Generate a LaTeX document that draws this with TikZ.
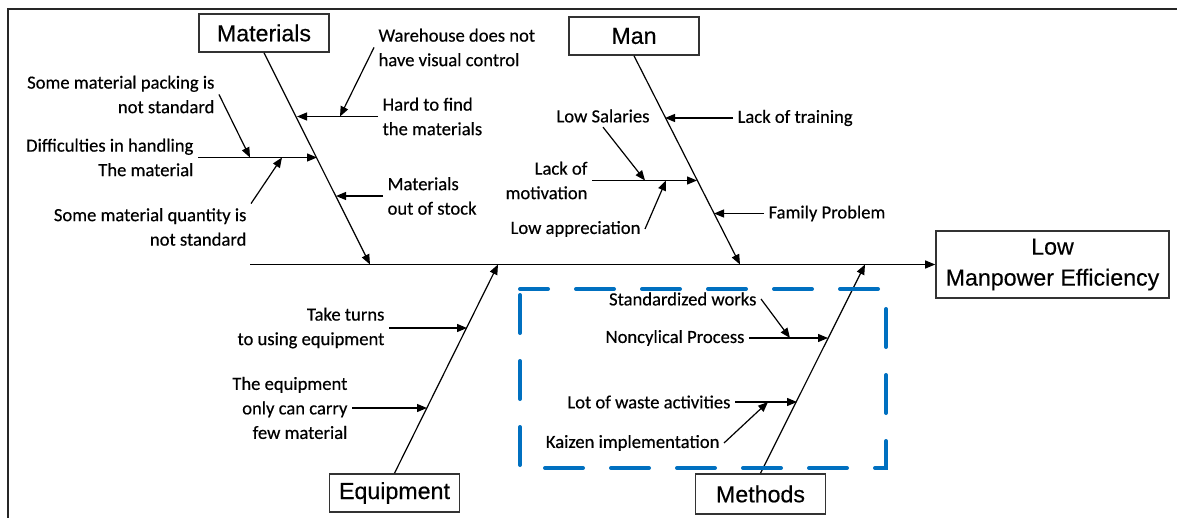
\documentclass[tikz,border=0pt]{standalone}
\usepackage{fontspec}
\setmainfont{Carlito}[FakeBold=0.4]
\newfontfamily\headfont{Liberation Sans}[FakeBold=0.4]
\usepackage{tikz}
\usetikzlibrary{positioning,arrows.meta}
\usepackage{xcolor}
\definecolor{dashblue}{HTML}{0070C0}
\tikzset{
  >={Triangle[length=5pt,width=4pt]},
  cause/.style={inner sep=2pt,font=\fontsize{9.3}{12.25}\selectfont},
  head/.style={draw=black!80,line width=0.8pt,minimum width=65pt,minimum height=19pt,inner sep=0pt,font=\headfont\fontsize{11.6}{15.5}\selectfont},
  bone/.style={line width=0.6pt}
}
\begin{document}
\begin{tikzpicture}[x=0.5pt,y=-0.5pt,bone]
\useasboundingbox (0,0) rectangle (1177,518);
\draw [black!85,line width=1.2pt](8,518)--(8,9)--(1177,9);

\node[head] (mat) at (264,33) {Materials};
\node[head] (man) at (634,36) {Man};
\node[head] (equ) at (394.5,493) {Equipment};
\node[head,minimum height=20pt] (meth) at (760.5,494) {Methods};
\node[head,minimum width=116.5pt,minimum height=33.5pt,align=center] (eff) at (1052.5,264.5) {Low\\Manpower Efficiency};

\coordinate (tail) at (250,264.5);
\coordinate (m0) at (370,264.5);
\coordinate (n0) at (740,264.5);
\coordinate (e0) at (498,264.5);
\coordinate (t0) at (865,264.5);

\draw  [black,->](tail)--(eff.west);
\draw  [black,->](mat.south)--(m0);
\draw  [black,->](man.south)--(n0);
\draw  [black,->](equ.north)--(e0);
\draw  [black,->](meth.north)--(t0);

\node[cause,anchor=west,align=left] (ware) at (374,47.5) {Warehouse does not\\have visual control};
\node[cause,anchor=east,align=right] (pack) at (219,94.5) {Some material packing is\\not standard};
\node[cause,anchor=west,align=left] (hard) at (378,116.5) {Hard to find\\the materials};
\node[cause,anchor=east,align=right] (diff) at (198,157.5) {Difficulties in handling\\The material};
\node[cause,anchor=east,align=right] (quant) at (251,227) {Some material quantity is\\not standard};
\node[cause,anchor=west,align=left] (stock) at (383,196) {Materials\\out of stock};

\coordinate (m1) at (297,116.5);
\coordinate (m2) at (317,157.5);
\coordinate (m3) at (336,196);
\coordinate (m4) at (340,116.5);
\coordinate (m5) at (250,157.5);
\coordinate (m6) at (282,157.5);

\draw  [black,->](hard.west)--(m1);
\draw  [black,->](diff.east)--(m2);
\draw  [black,->](stock.west)--(m3);
\draw  [black,->](ware.west)--(m4);
\draw  [black,->](pack.east)--(m5);
\draw  [black,->](quant.north east)--(m6);

\node[cause] (sal) at (603,116) {Low Salaries};
\node[cause,anchor=west] (train) at (733,118) {Lack of training};
\node[cause,anchor=east,align=right] (motiv) at (592,180.5) {Lack of\\motivation};
\node[cause,anchor=east] (apprec) at (645,229) {Low appreciation};
\node[cause,anchor=west] (family) at (764,213.5) {Family Problem};

\coordinate (n1) at (665,118);
\coordinate (n2) at (697,180.5);
\coordinate (n3) at (714,213.5);
\coordinate (n4) at (645,180.5);
\coordinate (n5) at (666,180.5);

\draw  [black,->](train.west)--(n1);
\draw  [black,->](motiv.east)--(n2);
\draw  [black,->](family.west)--(n3);
\draw  [black,->](sal.south)--(n4);
\draw  [black,->](apprec.east)--(n5);

\node[cause,anchor=east,align=right] (turns) at (389,328) {Take turns\\to using equipment};
\node[cause,anchor=east,align=right] (carry) at (352,408) {The equipment\\only can carry\\few material};

\coordinate (e1) at (467,328);
\coordinate (e2) at (427,408);

\draw  [black,->](turns.east)--(e1);
\draw  [black,->](carry.east)--(e2);

\node[cause,anchor=east] (std) at (761,299) {Standardized works};
\node[cause,anchor=east] (noncyc) at (749,338) {Noncylical Process};
\node[cause,anchor=east] (waste) at (735,402) {Lot of waste activities};
\node[cause,anchor=east] (kaizen) at (724,443) {Kaizen implementation};

\coordinate (t1) at (828,338);
\coordinate (t2) at (797,402);
\coordinate (t3) at (790,338);
\coordinate (t4) at (768,402);

\draw  [black,->](noncyc.east)--(t1);
\draw  [black,->](waste.east)--(t2);
\draw  [black,->](std.east)--(t3);
\draw  [black,->](kaizen.east)--(t4);

\draw  [dashblue,line width=2pt,line cap=round,dash pattern=on 19pt off 14pt,dash phase=-3pt](520,289) rectangle (886,468);
\end{tikzpicture}
\end{document}
